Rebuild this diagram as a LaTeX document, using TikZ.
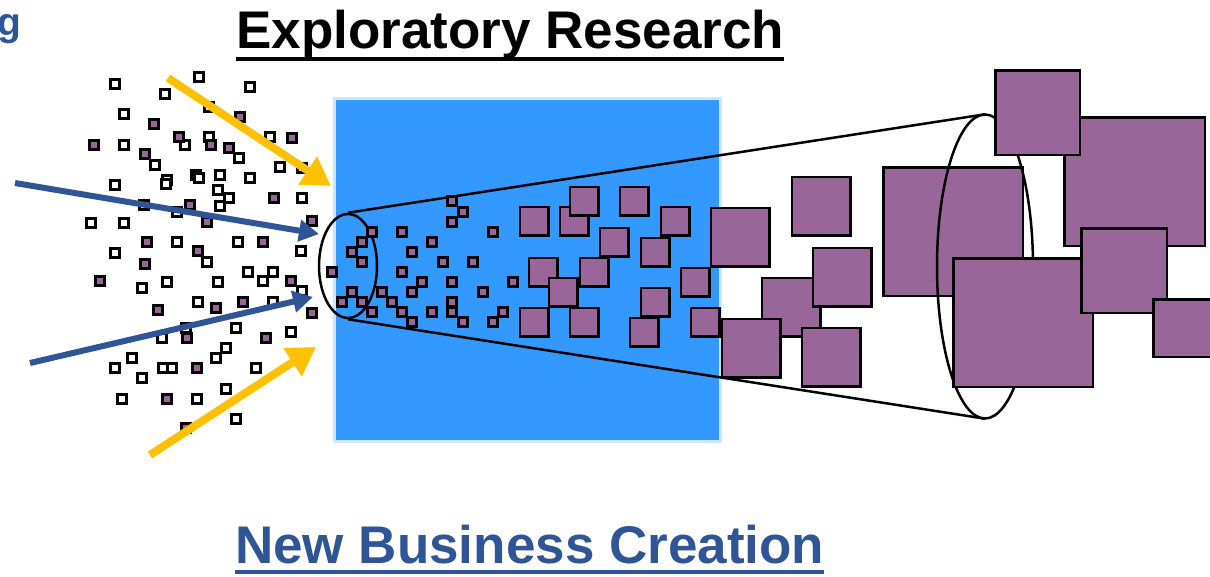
\documentclass[tikz,border=0pt]{standalone}
\usepackage{fontspec}
\setmainfont{Liberation Sans}
\usetikzlibrary{arrows.meta}
\usetikzlibrary{shapes.geometric}
\definecolor{cellpurple}{RGB}{153, 102, 153}
\definecolor{labblue}{RGB}{51, 153, 255}
\definecolor{labrim}{RGB}{204, 230, 255}
\definecolor{arrowgold}{RGB}{255, 192, 0}
\definecolor{arrowblue}{RGB}{47, 85, 151}

\tikzset{
  idea/.style={shape=rectangle, draw=black, line width=2.5pt, inner sep=0pt, minimum size=9pt},
  whiteidea/.style={idea, fill=white},
  purpleidea/.style={idea, fill=cellpurple},
  venture/.style={shape=rectangle, draw=black, line width=2.5pt, inner sep=0pt, fill=cellpurple},
  goldarrow/.style={draw=arrowgold, line width=8pt, -{Triangle[length=28pt,width=32pt]}},
  bluearrow/.style={draw=arrowblue, line width=6pt, -{Triangle[length=20pt,width=21pt]}},
  headline/.style={inner sep=0pt, font=\bfseries\fontsize{53}{60}\selectfont}
}

\begin{document}
\begin{tikzpicture}[x=1pt, y=-1pt]
        \useasboundingbox[fill=white] (0,0) rectangle (1210,576);

        % the lab
        \node[shape=rectangle,
              draw=labrim,
              line width=3pt,
              fill=labblue,
              inner sep=0pt,
              minimum width = 386pt,
              minimum height = 343pt] (lab) at (527,269.5) {};

        % funnel
        \node[shape=ellipse, draw=black, line width=2.5pt, inner sep=0pt,
              minimum width = 58pt, minimum height = 104pt] (mouth) at (348,266) {};
        \node[shape=ellipse, inner sep=0pt,
              minimum width = 96pt, minimum height = 304pt] (rim) at (985,266.5) {};
        \draw[line width=2.5pt] (mouth.north) -- (rim.north);
        \draw[line width=2.5pt] (mouth.south) -- (rim.south);

        % loose ideas
        \foreach \x/\y [count=\i] in {115/84, 199/77, 250/87, 165/94, 124/114, 209/107,
              124/145, 185/145, 209/137, 239/158, 270/137, 155/165, 280/167, 302/168,
              115/185, 167/180, 166/184, 196/175, 199/178, 220/175, 250/178, 218/190,
              229/198, 220/206, 302/198, 144/205, 177/212, 91/223, 124/223, 177/242,
              238/242, 115/253, 207/262, 301/251, 142/288, 167/282, 218/282, 248/272,
              273/272, 263/281, 302/291, 198/302, 273/302, 186/328, 162/338, 236/328,
              291/332, 226/348, 216/358, 132/358, 115/368, 142/378, 163/368, 172/368,
              256/368, 122/399, 197/399, 226/389, 236/419}
            \node[whiteidea] (w\i) at (\x,\y) {};
        \foreach \x/\y [count=\i] in {240/117, 154/124, 94/145, 179/137, 211/145, 229/148,
              292/138, 145/154, 274/198, 190/205, 207/222, 312/221, 147/242, 263/242,
              198/251, 145/264, 100/281, 291/281, 158/310, 216/308, 243/302, 312/313,
              187/338, 266/338, 197/368, 167/399, 186/428}
            \node[purpleidea] (p\i) at (\x,\y) {};

        % ideas in the funnel
        \foreach \x/\y [count=\i] in {452/201, 463/212, 452/222, 372/232, 402/232, 493/232,
              362/242, 432/242, 352/252, 412/252, 362/262, 443/262, 473/262, 332/272,
              402/272, 422/282, 452/282, 513/282, 352/292, 382/292, 412/292, 483/292,
              342/302, 362/302, 392/302, 452/302, 372/312, 402/312, 432/312, 452/312,
              503/312, 412/322, 463/322, 493/322}
            \node[purpleidea] (f\i) at (\x,\y) {};
        \foreach \x/\y [count=\i] in {534/221, 574/221, 584/201, 634/201, 614/242, 675/221,
              655/252, 543/272, 594/272, 563/292, 695/282, 655/302, 644/332, 534/322,
              584/322, 705/322}
            \node[venture, minimum size=28.5pt] (g\i) at (\x,\y) {};
        \foreach \x/\y [count=\i] in {740/237, 821/206, 791/307, 842/277, 831/357, 751/348}
            \node[venture, minimum size=58.5pt] (h\i) at (\x,\y) {};

        % new businesses
        \node[venture, minimum width=139.5pt, minimum height=128.5pt] (biz1) at (953,231.5) {};
        \draw[line width=2.5pt] (rim.center) ellipse[x radius=48pt, y radius=152pt];
        \node[venture, minimum width=140.5pt, minimum height=128.5pt] (biz2) at (1134.5,181.5) {};
        \node[venture, minimum width=84.5pt, minimum height=84.5pt] (biz3) at (1037.5,112.5) {};
        \node[venture, minimum width=139.5pt, minimum height=128.5pt] (biz4) at (1023,322.5) {};
        \node[venture, minimum width=85.5pt, minimum height=84.5pt] (biz5) at (1124,270.5) {};
        \node[venture, minimum width=57.5pt, minimum height=57.5pt] (biz6) at (1182,328) {};

        % inputs
        \coordinate (goldtopstart) at (168,78);
        \coordinate (goldtopend) at (331,186);
        \coordinate (goldlowstart) at (150,455);
        \coordinate (goldlowend) at (316,347);
        \coordinate (bluetopstart) at (15,183);
        \coordinate (bluetopend) at (319,234);
        \coordinate (bluelowstart) at (30,363);
        \coordinate (bluelowend) at (313,297);
        \draw[goldarrow] (goldtopstart) -- (goldtopend);
        \draw[goldarrow] (goldlowstart) -- (goldlowend);
        \draw[bluearrow] (bluetopstart) -- (bluetopend);
        \draw[bluearrow] (bluelowstart) -- (bluelowend);

        % titles
        \node[anchor=base east, inner sep=0pt, text=arrowblue,
              font=\bfseries\fontsize{39}{44}\selectfont] (cutword) at (22,35) {g};
        \node[headline, anchor=base west] (research) at (236,48) {Exploratory Research};
        \draw[line width=4pt] ([yshift=-11pt]research.base west) -- ([yshift=-11pt]research.base east);
        \node[headline, anchor=base west, text=arrowblue] (creation) at (235,563) {New Business Creation};
        \draw[line width=4pt, draw=arrowblue] ([yshift=-9pt]creation.base west) -- ([yshift=-9pt]creation.base east);
    \end{tikzpicture}
\end{document}
